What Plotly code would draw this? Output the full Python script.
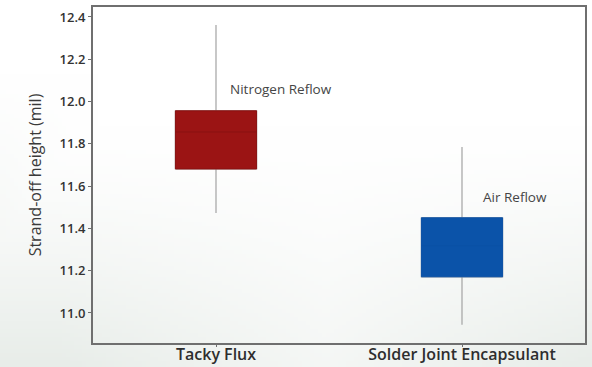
import base64
import struct
import zlib

import numpy as np
import plotly.graph_objects as go

# ---- data -------------------------------------------------------------
categories = ["Tacky Flux", "Solder Joint Encapsulant"]
process_labels = ["Nitrogen Reflow", "Air Reflow"]
lower_whisker = [11.473, 10.944]
q1_values = [11.681, 11.171]
median_values = [11.856, 11.318]
q3_values = [11.956, 11.450]
upper_whisker = [12.362, 11.785]
label_heights = [12.06, 11.55]
y_ticks = [11.0, 11.2, 11.4, 11.6, 11.8, 12.0, 12.2, 12.4]

# ---- styling ----------------------------------------------------------
fill_colors = ["#9b1414", "#0b53a9"]
median_colors = ["#881111", "#0b51a6"]
whisker_color = "#a3a3a3"
W, H = 592, 367
M = dict(l=93, r=7, t=7, b=24)
BOX_W = 0.33


def gradient_png():
    """Soft white-to-grey page backdrop, encoded as a PNG data URI."""
    h, w = 92, 148
    yy, xx = np.mgrid[0:h, 0:w]
    ty = yy / (h - 1)
    tx = xx / (w - 1)
    f = np.clip((ty - 0.35) / 0.65, 0, 1) ** 1.3
    f = f * (0.45 + 0.55 * np.clip(np.abs(tx - 0.55) * 2.2, 0, 1))
    f = np.maximum(f, 0.5 * np.clip((0.16 - tx) / 0.16, 0, 1) * np.clip((ty - 0.2) / 0.6, 0, 1))
    base = np.array([255.0, 255.0, 255.0])
    grey = np.array([232.0, 237.0, 233.0])
    img = (base[None, None, :] * (1 - f[..., None]) + grey[None, None, :] * f[..., None]).astype(np.uint8)
    raw = b"".join(b"\x00" + row.tobytes() for row in img)

    def chunk(tag, data):
        c = struct.pack(">I", len(data)) + tag + data
        return c + struct.pack(">I", zlib.crc32(tag + data) & 0xFFFFFFFF)

    png = b"\x89PNG\r\n\x1a\n"
    png += chunk(b"IHDR", struct.pack(">IIBBBBB", w, h, 8, 2, 0, 0, 0))
    png += chunk(b"IDAT", zlib.compress(raw, 9))
    png += chunk(b"IEND", b"")
    return "data:image/png;base64," + base64.b64encode(png).decode()


fig = go.Figure()

# whiskers: full-range grey box drawn first so the coloured box covers it
for i, cat in enumerate(categories):
    fig.add_trace(go.Box(
        x=[cat], q1=[q1_values[i]], median=[median_values[i]], q3=[q3_values[i]],
        lowerfence=[lower_whisker[i]], upperfence=[upper_whisker[i]],
        fillcolor=whisker_color, line=dict(color=whisker_color, width=1.2),
        width=BOX_W, whiskerwidth=0, boxpoints=False, showlegend=False,
        hoverinfo="skip",
    ))

# interquartile boxes with median line
for i, cat in enumerate(categories):
    fig.add_trace(go.Box(
        x=[cat], q1=[q1_values[i]], median=[median_values[i]], q3=[q3_values[i]],
        lowerfence=[q1_values[i]], upperfence=[q3_values[i]],
        fillcolor=fill_colors[i], line=dict(color=median_colors[i], width=1),
        width=BOX_W, whiskerwidth=0, boxpoints=False, showlegend=False,
    ))

# process labels beside each box
for i, cat in enumerate(categories):
    fig.add_annotation(
        x=cat, y=label_heights[i], text=process_labels[i], showarrow=False,
        xanchor="left", yanchor="middle", xshift=12 if i == 0 else 19,
        font=dict(family="Open Sans", size=13.5, color="#454545"),
    )

plot_w = W - M["l"] - M["r"]
plot_h = H - M["t"] - M["b"]
fig.add_layout_image(
    source=gradient_png(), xref="paper", yref="paper",
    x=-M["l"] / plot_w, y=1 + M["t"] / plot_h,
    sizex=W / plot_w, sizey=H / plot_h,
    sizing="stretch", xanchor="left", yanchor="top", layer="below",
)

fig.update_layout(
    width=W, height=H, margin=M,
    paper_bgcolor="white", plot_bgcolor="rgba(0,0,0,0)",
    boxmode="overlay", showlegend=False,
    xaxis=dict(
        type="category", categoryorder="array", categoryarray=categories,
        range=[-0.5, 1.5], showgrid=False, zeroline=False, automargin=False,
        showline=True, linecolor="#6f6f6f", linewidth=2, mirror=True,
        ticks="outside", ticklen=2, tickcolor="#6f6f6f", ticklabelstandoff=-6,
        tickfont=dict(family="Open Sans", size=16, color="#2e2e2e", weight=600),
    ),
    yaxis=dict(
        range=[10.858, 12.447], tickvals=y_ticks,
        ticktext=[f"{v:.1f}" for v in y_ticks],
        showgrid=False, zeroline=False, automargin=False,
        showline=True, linecolor="#6f6f6f", linewidth=2, mirror=True,
        ticks="outside", ticklen=3, tickcolor="#6f6f6f",
        tickfont=dict(family="Open Sans", size=13, color="#333333", weight=600),
        title=dict(text="Strand-off height (mil)", standoff=14,
                   font=dict(family="Open Sans", size=16, color="#3a3a3a")),
    ),
)

fig.write_html("out.html")
